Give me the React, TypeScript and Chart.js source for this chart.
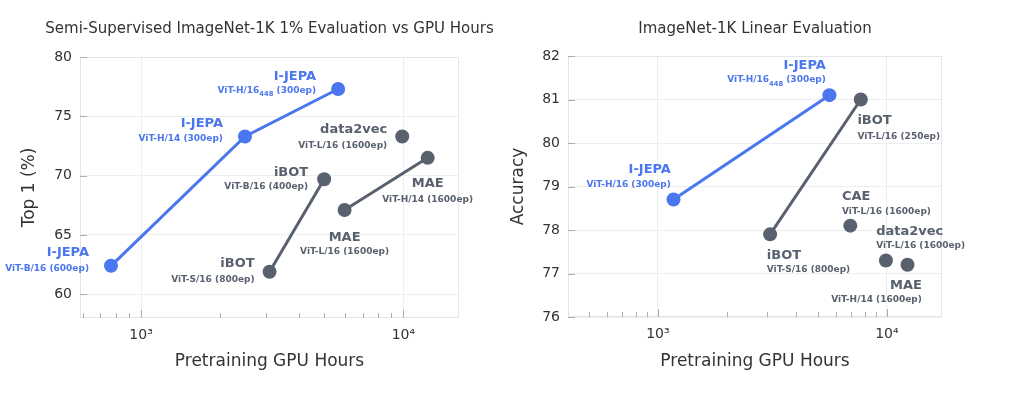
import React, { useEffect, useRef } from 'react';
import { Chart, registerables } from 'chart.js';

Chart.register(...registerables);

// ---------------- data: left panel (semi-supervised 1%) ----------------
const leftTitle = 'Semi-Supervised ImageNet-1K 1% Evaluation vs GPU Hours';
const leftYLabel = 'Top 1 (%)';
const leftIjepaHours = [768, 2490, 5640];
const leftIjepaTop1 = [62.4, 73.3, 77.3];
const leftIjepaNames = ['I-JEPA', 'I-JEPA', 'I-JEPA'];
const leftIjepaConfigs = ['ViT-B/16 (600ep)', 'ViT-H/14 (300ep)', 'ViT-H/16_{448} (300ep)'];
const leftIbotHours = [3090, 4990];
const leftIbotTop1 = [61.9, 69.7];
const leftIbotNames = ['iBOT', 'iBOT'];
const leftIbotConfigs = ['ViT-S/16 (800ep)', 'ViT-B/16 (400ep)'];
const leftMaeHours = [5970, 12380];
const leftMaeTop1 = [67.1, 71.5];
const leftMaeNames = ['MAE', 'MAE'];
const leftMaeConfigs = ['ViT-L/16 (1600ep)', 'ViT-H/14 (1600ep)'];
const leftData2vecHours = [9900];
const leftData2vecTop1 = [73.3];
const leftData2vecNames = ['data2vec'];
const leftData2vecConfigs = ['ViT-L/16 (1600ep)'];
const leftYTicks = [60, 65, 70, 75, 80];
const leftXTicks = [600, 700, 800, 900, 1000, 2000, 3000, 4000, 5000, 6000, 7000, 8000, 9000, 10000];

// ---------------- data: right panel (linear evaluation) ----------------
const rightTitle = 'ImageNet-1K Linear Evaluation';
const rightYLabel = 'Accuracy';
const rightIjepaHours = [1170, 5610];
const rightIjepaAcc = [78.7, 81.1];
const rightIjepaNames = ['I-JEPA', 'I-JEPA'];
const rightIjepaConfigs = ['ViT-H/16 (300ep)', 'ViT-H/16_{448} (300ep)'];
const rightIbotHours = [3090, 7690];
const rightIbotAcc = [77.9, 81.0];
const rightIbotNames = ['iBOT', 'iBOT'];
const rightIbotConfigs = ['ViT-S/16 (800ep)', 'ViT-L/16 (250ep)'];
const rightCaeHours = [6920];
const rightCaeAcc = [78.1];
const rightCaeNames = ['CAE'];
const rightCaeConfigs = ['ViT-L/16 (1600ep)'];
const rightData2vecHours = [9900];
const rightData2vecAcc = [77.3];
const rightData2vecNames = ['data2vec'];
const rightData2vecConfigs = ['ViT-L/16 (1600ep)'];
const rightMaeHours = [12300];
const rightMaeAcc = [77.2];
const rightMaeNames = ['MAE'];
const rightMaeConfigs = ['ViT-H/14 (1600ep)'];
const rightYTicks = [76, 77, 78, 79, 80, 81, 82];
const rightXTicks = [500, 600, 700, 800, 900, 1000, 2000, 3000, 4000, 5000, 6000, 7000, 8000, 9000, 10000];

const xLabel = 'Pretraining GPU Hours';

// ---------------- styles ----------------
const BLUE = '#4a76ee';
const GRAY = '#59606e';
const GRID = '#eceef1';
const BOX = '#e3e5e9';
const TICKMARK = '#a9adb4';
const TEXT = '#333333';
const FONT = "'DejaVu Sans', sans-serif";

type Place = { align: CanvasTextAlign; dx: number; dyName: number; dyConf: number };
const P = (align: CanvasTextAlign, dx: number, dyName: number, dyConf: number): Place => ({ align, dx, dyName, dyConf });

// label placements (per dataset, per point)
const leftPlaces: Place[][] = [
  [P('right', -22, -13, 3), P('right', -22, -12.4, 2.6), P('right', -22, -12.3, 2)],
  [P('right', -15, -7.7, 8.3), P('right', -16, -6.3, 7)],
  [P('center', 0, 27.4, 41.7), P('center', 0, 26, 41.7)],
  [P('right', -15, -6.7, 9)],
];
const rightPlaces: Place[][] = [
  [P('right', -2.6, -30, -15), P('right', -3.6, -30, -15)],
  [P('left', -3.3, 21.7, 35.7), P('left', -3.4, 21.4, 36.7)],
  [P('left', -8.3, -29, -14)],
  [P('left', -9.7, -28.7, -14.3)],
  [P('right', 14.4, 20.7, 34.7)],
];

const NAME_SIZE = 13;
const CONF_SIZE = 9;

function isPow10(v: number) {
  const l = Math.log10(v);
  return Math.abs(l - Math.round(l)) < 1e-9;
}

function supLabel(v: number) {
  if (v === 1000) return '10³';
  if (v === 10000) return '10⁴';
  return '';
}

function drawConfig(ctx: CanvasRenderingContext2D, text: string, x: number, y: number, align: CanvasTextAlign) {
  const parts: { t: string; sub: boolean }[] = [];
  const re = /_\{([^}]*)\}/g;
  let last = 0;
  let m: RegExpExecArray | null;
  while ((m = re.exec(text))) {
    if (m.index > last) parts.push({ t: text.slice(last, m.index), sub: false });
    parts.push({ t: m[1], sub: true });
    last = m.index + m[0].length;
  }
  if (last < text.length) parts.push({ t: text.slice(last), sub: false });
  const fontFor = (sub: boolean) => `bold ${sub ? CONF_SIZE * 0.75 : CONF_SIZE}px ${FONT}`;
  let total = 0;
  const widths = parts.map((p) => {
    ctx.font = fontFor(p.sub);
    const w = ctx.measureText(p.t).width;
    total += w;
    return w;
  });
  let sx = align === 'right' ? x - total : align === 'center' ? x - total / 2 : x;
  ctx.textAlign = 'left';
  ctx.textBaseline = 'middle';
  parts.forEach((p, i) => {
    ctx.font = fontFor(p.sub);
    ctx.fillText(p.t, sx, y + (p.sub ? CONF_SIZE * 0.4 : 0));
    sx += widths[i];
  });
}

function build(opts: {
  title: string;
  yLabel: string;
  series: { hours: number[]; vals: number[]; names: string[]; configs: string[]; color: string; line: boolean }[];
  places: Place[][];
  xMin: number;
  xMax: number;
  xTicks: number[];
  yMin: number;
  yMax: number;
  yTicks: number[];
  yAxisWidth: number;
  xAxisHeight: number;
  padTop: number;
  padRight: number;
  yTitlePad: number;
}) {
  const annotate = {
    id: 'annotate',
    beforeDatasetsDraw(chart: any) {
      const { ctx, chartArea: a, scales } = chart;
      ctx.save();
      ctx.strokeStyle = BOX;
      ctx.lineWidth = 1;
      ctx.strokeRect(a.left + 0.5, a.top + 0.5, a.right - a.left - 1, a.bottom - a.top - 1);
      ctx.strokeStyle = TICKMARK;
      ctx.beginPath();
      for (const t of scales.x.ticks) {
        const px = Math.round(scales.x.getPixelForValue(t.value)) + 0.5;
        const len = isPow10(t.value) ? 8 : 5;
        ctx.moveTo(px, a.bottom);
        ctx.lineTo(px, a.bottom - len);
      }
      for (const t of scales.y.ticks) {
        const py = Math.round(scales.y.getPixelForValue(t.value)) + 0.5;
        ctx.moveTo(a.left, py);
        ctx.lineTo(a.left + 7, py);
      }
      ctx.stroke();
      ctx.restore();
    },
    afterDatasetsDraw(chart: any) {
      const { ctx, chartArea: a } = chart;
      ctx.save();
      ctx.fillStyle = TEXT;
      ctx.font = `15px ${FONT}`;
      ctx.textAlign = 'center';
      ctx.textBaseline = 'middle';
      ctx.fillText(opts.title, (a.left + a.right) / 2, 29);
      opts.series.forEach((s, i) => {
        const meta = chart.getDatasetMeta(i);
        meta.data.forEach((el: any, j: number) => {
          const p = opts.places[i][j];
          ctx.fillStyle = s.color;
          ctx.font = `bold ${NAME_SIZE}px ${FONT}`;
          ctx.textAlign = p.align;
          ctx.textBaseline = 'middle';
          ctx.fillText(s.names[j], el.x + p.dx, el.y + p.dyName);
          drawConfig(ctx, s.configs[j], el.x + p.dx, el.y + p.dyConf, p.align);
        });
      });
      ctx.restore();
    },
  };

  return {
    type: 'scatter' as const,
    data: {
      datasets: opts.series.map((s) => ({
        data: s.hours.map((h, k) => ({ x: h, y: s.vals[k] })),
        showLine: s.line,
        borderColor: s.color,
        backgroundColor: s.color,
        borderWidth: 3,
        pointRadius: 7,
        pointHoverRadius: 7,
        pointBorderWidth: 0,
        pointBackgroundColor: s.color,
      })),
    },
    options: {
      animation: false as const,
      responsive: false,
      devicePixelRatio: 1,
      layout: { padding: { top: opts.padTop, right: opts.padRight, left: 0, bottom: 0 } },
      plugins: { legend: { display: false }, tooltip: { enabled: false }, title: { display: false } },
      scales: {
        x: {
          type: 'logarithmic' as const,
          min: opts.xMin,
          max: opts.xMax,
          afterBuildTicks: (s: any) => {
            s.ticks = opts.xTicks.map((v) => ({ value: v, major: isPow10(v) }));
          },
          afterFit: (s: any) => {
            s.height = opts.xAxisHeight;
          },
          ticks: {
            autoSkip: false,
            maxRotation: 0,
            color: TEXT,
            font: { size: 14, family: FONT },
            padding: 9,
            callback: (v: any) => supLabel(Number(v)),
          },
          grid: {
            drawTicks: false,
            color: (c: any) => (c.tick && isPow10(c.tick.value) ? GRID : 'rgba(0,0,0,0)'),
          },
          border: { display: false },
          title: {
            display: true,
            text: xLabel,
            color: TEXT,
            font: { size: 17, family: FONT },
            padding: { top: 0, bottom: 23.8 },
          },
        },
        y: {
          type: 'linear' as const,
          min: opts.yMin,
          max: opts.yMax,
          afterBuildTicks: (s: any) => {
            s.ticks = opts.yTicks.map((v) => ({ value: v }));
          },
          afterFit: (s: any) => {
            s.width = opts.yAxisWidth;
          },
          ticks: { color: TEXT, font: { size: 14, family: FONT }, padding: 8 },
          grid: { drawTicks: false, color: GRID },
          border: { display: false },
          title: {
            display: true,
            text: opts.yLabel,
            color: TEXT,
            font: { size: 17, family: FONT },
            padding: { top: opts.yTitlePad, bottom: 0 },
          },
        },
      },
    },
    plugins: [annotate],
  };
}

function Panel({ left, width, config }: { left: number; width: number; config: () => any }) {
  const ref = useRef<HTMLCanvasElement>(null);
  useEffect(() => {
    const chart = new Chart(ref.current as HTMLCanvasElement, config());
    return () => chart.destroy();
  }, []);
  return (
    <div style={{ position: 'fixed', left, top: 0, width, height: 396 }}>
      <canvas ref={ref} width={width} height={396} style={{ width, height: 396, display: 'block' }} />
    </div>
  );
}

export default function App() {
  const leftConfig = () =>
    build({
      title: leftTitle,
      yLabel: leftYLabel,
      series: [
        { hours: leftIjepaHours, vals: leftIjepaTop1, names: leftIjepaNames, configs: leftIjepaConfigs, color: BLUE, line: true },
        { hours: leftIbotHours, vals: leftIbotTop1, names: leftIbotNames, configs: leftIbotConfigs, color: GRAY, line: true },
        { hours: leftMaeHours, vals: leftMaeTop1, names: leftMaeNames, configs: leftMaeConfigs, color: GRAY, line: true },
        { hours: leftData2vecHours, vals: leftData2vecTop1, names: leftData2vecNames, configs: leftData2vecConfigs, color: GRAY, line: false },
      ],
      places: leftPlaces,
      xMin: 585,
      xMax: 16300,
      xTicks: leftXTicks,
      yMin: 58,
      yMax: 80,
      yTicks: leftYTicks,
      yAxisWidth: 80,
      xAxisHeight: 78,
      padTop: 57,
      padRight: 46,
      yTitlePad: 19.8,
    });
  const rightConfig = () =>
    build({
      title: rightTitle,
      yLabel: rightYLabel,
      series: [
        { hours: rightIjepaHours, vals: rightIjepaAcc, names: rightIjepaNames, configs: rightIjepaConfigs, color: BLUE, line: true },
        { hours: rightIbotHours, vals: rightIbotAcc, names: rightIbotNames, configs: rightIbotConfigs, color: GRAY, line: true },
        { hours: rightCaeHours, vals: rightCaeAcc, names: rightCaeNames, configs: rightCaeConfigs, color: GRAY, line: false },
        { hours: rightData2vecHours, vals: rightData2vecAcc, names: rightData2vecNames, configs: rightData2vecConfigs, color: GRAY, line: false },
        { hours: rightMaeHours, vals: rightMaeAcc, names: rightMaeNames, configs: rightMaeConfigs, color: GRAY, line: false },
      ],
      places: rightPlaces,
      xMin: 405,
      xMax: 17400,
      xTicks: rightXTicks,
      yMin: 76,
      yMax: 82,
      yTicks: rightYTicks,
      yAxisWidth: 63,
      xAxisHeight: 79,
      padTop: 56,
      padRight: 87,
      yTitlePad: 3.8,
    });
  return (
    <div>
      <Panel left={0} width={505} config={leftConfig} />
      <Panel left={505} width={524} config={rightConfig} />
    </div>
  );
}
